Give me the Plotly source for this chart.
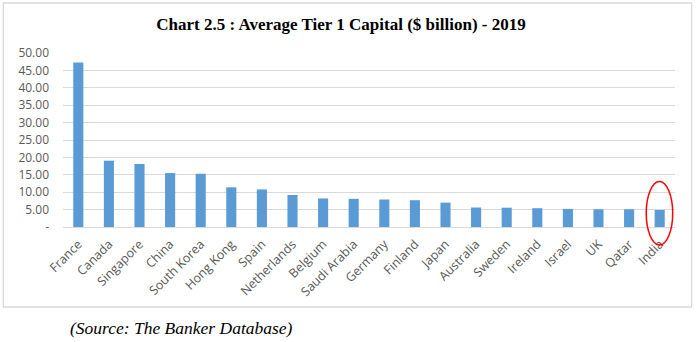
import plotly.graph_objects as go

countries = ["France", "Canada", "Singapore", "China", "South Korea", "Hong Kong", "Spain",
             "Netherlands", "Belgium", "Saudi Arabia", "Germany", "Finland", "Japan",
             "Australia", "Sweden", "Ireland", "Israel", "UK", "Qatar", "India"]
tier1_capital = [47.3, 19.05, 18.1, 15.5, 15.3, 11.4, 10.8, 9.2, 8.2, 8.1, 7.9, 7.7, 7.0,
                 5.6, 5.55, 5.4, 5.2, 5.1, 5.1, 4.9]
y_ticks = [0, 5, 10, 15, 20, 25, 30, 35, 40, 45, 50]
y_tick_labels = ["-"] + [f"{v:.2f}" for v in y_ticks[1:]]

W, H = 696, 342
L, R, T, B = 62.7, 20.7, 53, 115
pw, ph = W - L - R, H - T - B

def px(x):
    return (x - L) / pw

def py(y):
    return (H - B - y) / ph

fig = go.Figure(go.Bar(
    x=countries, y=tier1_capital, marker=dict(color="#5b9bd5", line=dict(width=0)),
    width=0.33,
))

fig.update_layout(
    width=W, height=H, margin=dict(l=L, r=R, t=T, b=B),
    paper_bgcolor="white", plot_bgcolor="white", showlegend=False,
    font=dict(family="Open Sans", size=11, color="#595959"),
    title=dict(text="<b>Chart 2.5 : Average Tier 1 Capital ($ billion) - 2019</b>",
               xref="container", x=341 / W, xanchor="center", y=1 - 24 / H, yanchor="middle",
               font=dict(family="Liberation Serif", size=17, color="#000000")),
    xaxis=dict(tickangle=-45, showgrid=False, showline=True, linecolor="#d9d9d9",
               ticks="", ticklabelstandoff=4, tickfont=dict(size=12.5, color="#595959"),
               fixedrange=True),
    yaxis=dict(range=[0, 50], tickvals=y_ticks, ticktext=y_tick_labels, showgrid=True,
               gridcolor="#d9d9d9", zeroline=False, ticks="", ticklen=0, ticklabelstandoff=13,
               tickfont=dict(size=12, color="#595959"), fixedrange=True),
    shapes=[
        dict(type="rect", xref="paper", yref="paper", x0=px(3), x1=px(692), y0=py(307), y1=py(3),
             line=dict(color="#d9d9d9", width=1.3), fillcolor="rgba(0,0,0,0)", layer="below"),
        dict(type="circle", xref="paper", yref="paper", x0=px(646.5), x1=px(673),
             y0=py(245), y1=py(181.5), line=dict(color="#ff0000", width=1.5)),
    ],
    annotations=[
        dict(text="<i>(Source: The Banker Database)</i>", xref="paper", yref="paper",
             x=px(68), y=py(328), xanchor="left", yanchor="middle", showarrow=False,
             font=dict(family="Liberation Serif", size=17.5, color="#000000")),
    ],
)

fig.write_html("out.html")
